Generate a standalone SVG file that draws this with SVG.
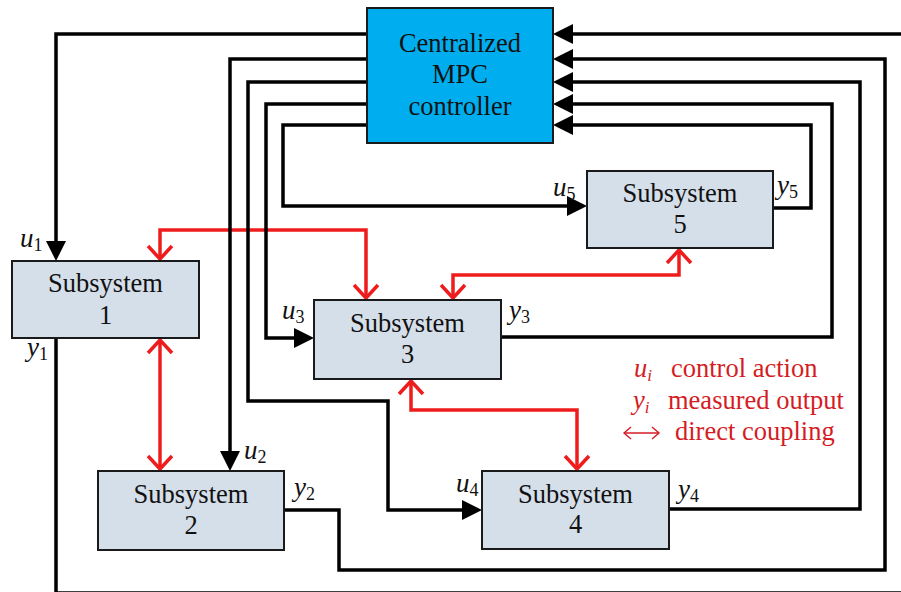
<svg xmlns="http://www.w3.org/2000/svg" width="901" height="592" viewBox="0 0 901 592">
<style>
  .box{fill:#d5dfea;stroke:#1a1a1a;stroke-width:2}
  .ctrl{fill:#00aeef;stroke:#1a1a1a;stroke-width:2}
  text{font-family:'Liberation Serif','Times New Roman',serif}
  .t{font-size:26.5px;fill:#111;text-anchor:middle}
  .lab{font-size:27px;font-style:italic;fill:#111}
  .sub{font-size:18px;font-style:normal}
  .leg{font-size:26.5px;fill:#d41c24}
  .blk{fill:none;stroke:#000;stroke-width:3.5;stroke-linejoin:miter}
  .red{fill:none;stroke:#ee1c1c;stroke-width:3.5;marker-start:url(#ra);marker-end:url(#ra)}
</style>
<defs>
  <marker id="ah" markerUnits="userSpaceOnUse" viewBox="0 0 20 20" markerWidth="20" markerHeight="20" refX="10" refY="10" orient="auto">
    <path d="M0,0 L20,10 L0,20 z" fill="#000"/>
  </marker>
  <marker id="ra" markerUnits="userSpaceOnUse" viewBox="-18 -15 20 30" markerWidth="20" markerHeight="30" refX="0" refY="0" orient="auto-start-reverse">
    <path d="M-13,-12 L0,0 L-13,12" fill="none" stroke="#ee1c1c" stroke-width="3.5"/>
  </marker>
  <marker id="la" markerUnits="userSpaceOnUse" viewBox="-10 -8 12 16" markerWidth="12" markerHeight="16" refX="0" refY="0" orient="auto-start-reverse">
    <path d="M-7,-6 L0,0 L-7,6" fill="none" stroke="#d41c24" stroke-width="1.4"/>
  </marker>
</defs>

<g id="coupling">
  <path class="red" d="M160,259 V230 H366 V298"/>
  <path class="red" d="M160,340 V469"/>
  <path class="red" d="M453,298 V275 H679 V250"/>
  <path class="red" d="M411,381 V410 H577 V469"/>
</g>

<g id="connectors">
  <path class="blk" marker-end="url(#ah)" d="M367,34 H56 V251"/>
  <path class="blk" marker-end="url(#ah)" d="M367,59 H230 V461"/>
  <path class="blk" marker-end="url(#ah)" d="M367,82 H248 V401 H388 V510 H472"/>
  <path class="blk" marker-end="url(#ah)" d="M367,104 H266 V338 H304"/>
  <path class="blk" marker-end="url(#ah)" d="M367,125 H283 V206 H577"/>
  <path class="blk" marker-end="url(#ah)" d="M56,338 V593 H905 V34 H563"/>
  <path class="blk" marker-end="url(#ah)" d="M284,510 H339 V570 H885 V59 H563"/>
  <path class="blk" marker-end="url(#ah)" d="M669,509 H860 V82 H563"/>
  <path class="blk" marker-end="url(#ah)" d="M501,337 H832 V104 H563"/>
  <path class="blk" marker-end="url(#ah)" d="M773,208 H811 V125 H563"/>
</g>

<g id="controller">
  <rect class="ctrl" x="367" y="8" width="186" height="135"/>
  <text class="t" x="460" y="52">Centralized</text>
  <text class="t" x="460" y="83">MPC</text>
  <text class="t" x="460" y="115">controller</text>
</g>
<g id="subsystem1">
  <rect class="box" x="12" y="261" width="187" height="77"/>
  <text class="t" x="105.5" y="292">Subsystem</text>
  <text class="t" x="105.5" y="324">1</text>
</g>
<g id="subsystem2">
  <rect class="box" x="98" y="471" width="186" height="79"/>
  <text class="t" x="191" y="503">Subsystem</text>
  <text class="t" x="191" y="534">2</text>
</g>
<g id="subsystem3">
  <rect class="box" x="314" y="300" width="187" height="79"/>
  <text class="t" x="407.5" y="332">Subsystem</text>
  <text class="t" x="407.5" y="363">3</text>
</g>
<g id="subsystem4">
  <rect class="box" x="482" y="471" width="187" height="78"/>
  <text class="t" x="575.5" y="503">Subsystem</text>
  <text class="t" x="575.5" y="533">4</text>
</g>
<g id="subsystem5">
  <rect class="box" x="587" y="171" width="186" height="77"/>
  <text class="t" x="680" y="202">Subsystem</text>
  <text class="t" x="680" y="233">5</text>
</g>

<g id="labels">
  <text class="lab" x="20" y="247">u<tspan class="sub" dy="4">1</tspan></text>
  <text class="lab" x="27" y="356">y<tspan class="sub" dy="4">1</tspan></text>
  <text class="lab" x="244" y="459">u<tspan class="sub" dy="4">2</tspan></text>
  <text class="lab" x="294" y="496">y<tspan class="sub" dy="4">2</tspan></text>
  <text class="lab" x="282" y="319">u<tspan class="sub" dy="4">3</tspan></text>
  <text class="lab" x="509" y="319">y<tspan class="sub" dy="4">3</tspan></text>
  <text class="lab" x="456" y="492">u<tspan class="sub" dy="4">4</tspan></text>
  <text class="lab" x="678" y="498">y<tspan class="sub" dy="4">4</tspan></text>
  <text class="lab" x="553" y="196">u<tspan class="sub" dy="4">5</tspan></text>
  <text class="lab" x="777" y="194">y<tspan class="sub" dy="4">5</tspan></text>
</g>

<g id="legend">
  <text class="leg" x="634" y="377"><tspan font-style="italic">u</tspan><tspan font-style="italic" font-size="17" dy="4">i</tspan></text>
  <text class="leg" x="671" y="377">control action</text>
  <text class="leg" x="633" y="409"><tspan font-style="italic">y</tspan><tspan font-style="italic" font-size="17" dy="4">i</tspan></text>
  <text class="leg" x="668" y="409">measured output</text>
  <path d="M624,433 H659" fill="none" stroke="#d41c24" stroke-width="1.4" marker-start="url(#la)" marker-end="url(#la)"/>
  <text class="leg" x="675" y="440">direct coupling</text>
</g>
</svg>
